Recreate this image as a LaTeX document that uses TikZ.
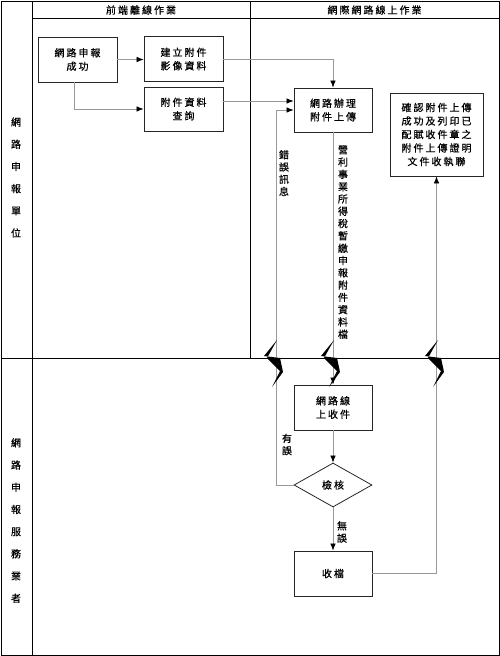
\documentclass[tikz,border=0pt]{standalone}
\usepackage{fontspec}
\newfontfamily\cjkfont[LetterSpace=20, FakeBold=0.6]{Noto Sans CJK TC}
\newfontfamily\cjkplain[FakeBold=0.6]{Noto Sans CJK TC}
\usepackage{tikz}
\usetikzlibrary{positioning, shapes.geometric, arrows.meta, calc}

\begin{document}
\begin{tikzpicture}[
    x=1pt, y=-1pt,
    lane/.style={line width=0.9pt, draw=black},
    proc/.style={draw=black!85, line width=0.8pt, minimum width=78pt, minimum height=45pt,
        inner sep=0pt, align=center, font=\cjkfont\fontsize{10}{13.5}\selectfont},
    check/.style={proc, diamond, minimum height=44pt},
    conn/.style={draw=black!40, line width=0.7pt, -{Latex[color=black, length=7pt, width=5.5pt]}},
    vlabel/.style={align=center, inner sep=0pt, font=\cjkplain\fontsize{10}{12.3}\selectfont},
    lanelabel/.style={align=center, inner sep=0pt, font=\cjkplain\fontsize{10}{22.2}\selectfont},
    head/.style={inner sep=0pt, font=\cjkfont\fontsize{10}{12}\selectfont}
]
    \useasboundingbox (0,0) rectangle (500,656);
    % Swim lanes
    \def\rowsplit{358}
    \def\colsplit{250}
    \draw[lane] (1,1) rectangle (499,655);
    \draw[lane] (32,1) -- (32,655);
    \draw[lane] (32,18) -- (499,18);
    \draw[lane] (\colsplit,1) -- (\colsplit,\rowsplit);
    \draw[lane] (1,\rowsplit) -- (499,\rowsplit);

    \node[head] (hoff) at (141,10) {前端離線作業};
    \node[head] (hon) at (374.5,10) {網際網路線上作業};
    \node[lanelabel] (lfiler) at (16,177.5) {網\\路\\申\\報\\單\\位};
    \node[lanelabel] (lagent) at (16,520.5) {網\\路\\申\\報\\服\\務\\業\\者};

    % Steps
    \node[proc, minimum width=79pt] (succ) at (77.5,59.5) {網路申報\\成功};
    \node[proc, minimum width=79pt] (img) at (183.5,59) {建立附件\\影像資料};
    \node[proc, minimum width=79pt, minimum height=44pt] (query) at (183.5,109) {附件資料\\查詢};
    \node[proc, minimum height=44pt] (upload) at (333,110) {網路辦理\\附件上傳};
    \node[proc, minimum width=93pt, minimum height=83pt] (confirm) at (436.5,134.5)
        {確認附件上傳\\成功及列印已\\配賦收件章之\\附件上傳證明\\文件收執聯};
    \node[proc] (recv) at (333,407.5) {網路線\\上收件};
    \node[check, minimum width=78pt] (chk) at (333,485) {檢核};
    \node[proc] (store) at (333,573.5) {收檔};

    \coordinate (upin) at ($(upload.west)+(0,-9)$);
    \coordinate (errturn) at (276,485);

    % Connectors
    \draw[conn] (succ.east) -- (succ.east -| img.west);
    \draw[conn] ([xshift=-3.5pt]succ.south) |- (query.west);
    \draw[conn] (img.east) -| (upload.north);
    \draw[conn] (query.east |- upin) -- (upin);
    \draw[conn] (chk.west) -- (errturn) |- (upload.west);
    \draw[conn] (upload.south) -- (recv.north);
    \draw[conn] (recv.south) -- (chk.north);
    \draw[conn] (chk.south) -- (store.north);
    \draw[conn] (store.east) -| (confirm.south);

    \node[vlabel] (lerr) at (284,173) {錯\\誤\\訊\\息};
    \node[vlabel] (lwrong) at (287,444.5) {有\\誤};
    \node[vlabel] (lfile) at (343,242) {營\\利\\事\\業\\所\\得\\稅\\暫\\繳\\申\\報\\附\\件\\資\\料\\檔};
    \node[vlabel] (lok) at (342,532) {無\\誤};

    % Breaks where a connector crosses lanes
    \foreach \bx in {276,333,437}
        \fill[black] (\bx+1,340) -- (\bx-12,356) -- (\bx+4,358) -- (\bx+7,372)
            -- (\bx-4,387) -- (\bx+4,371) -- (\bx-9,358) -- cycle;
\end{tikzpicture}
\end{document}
